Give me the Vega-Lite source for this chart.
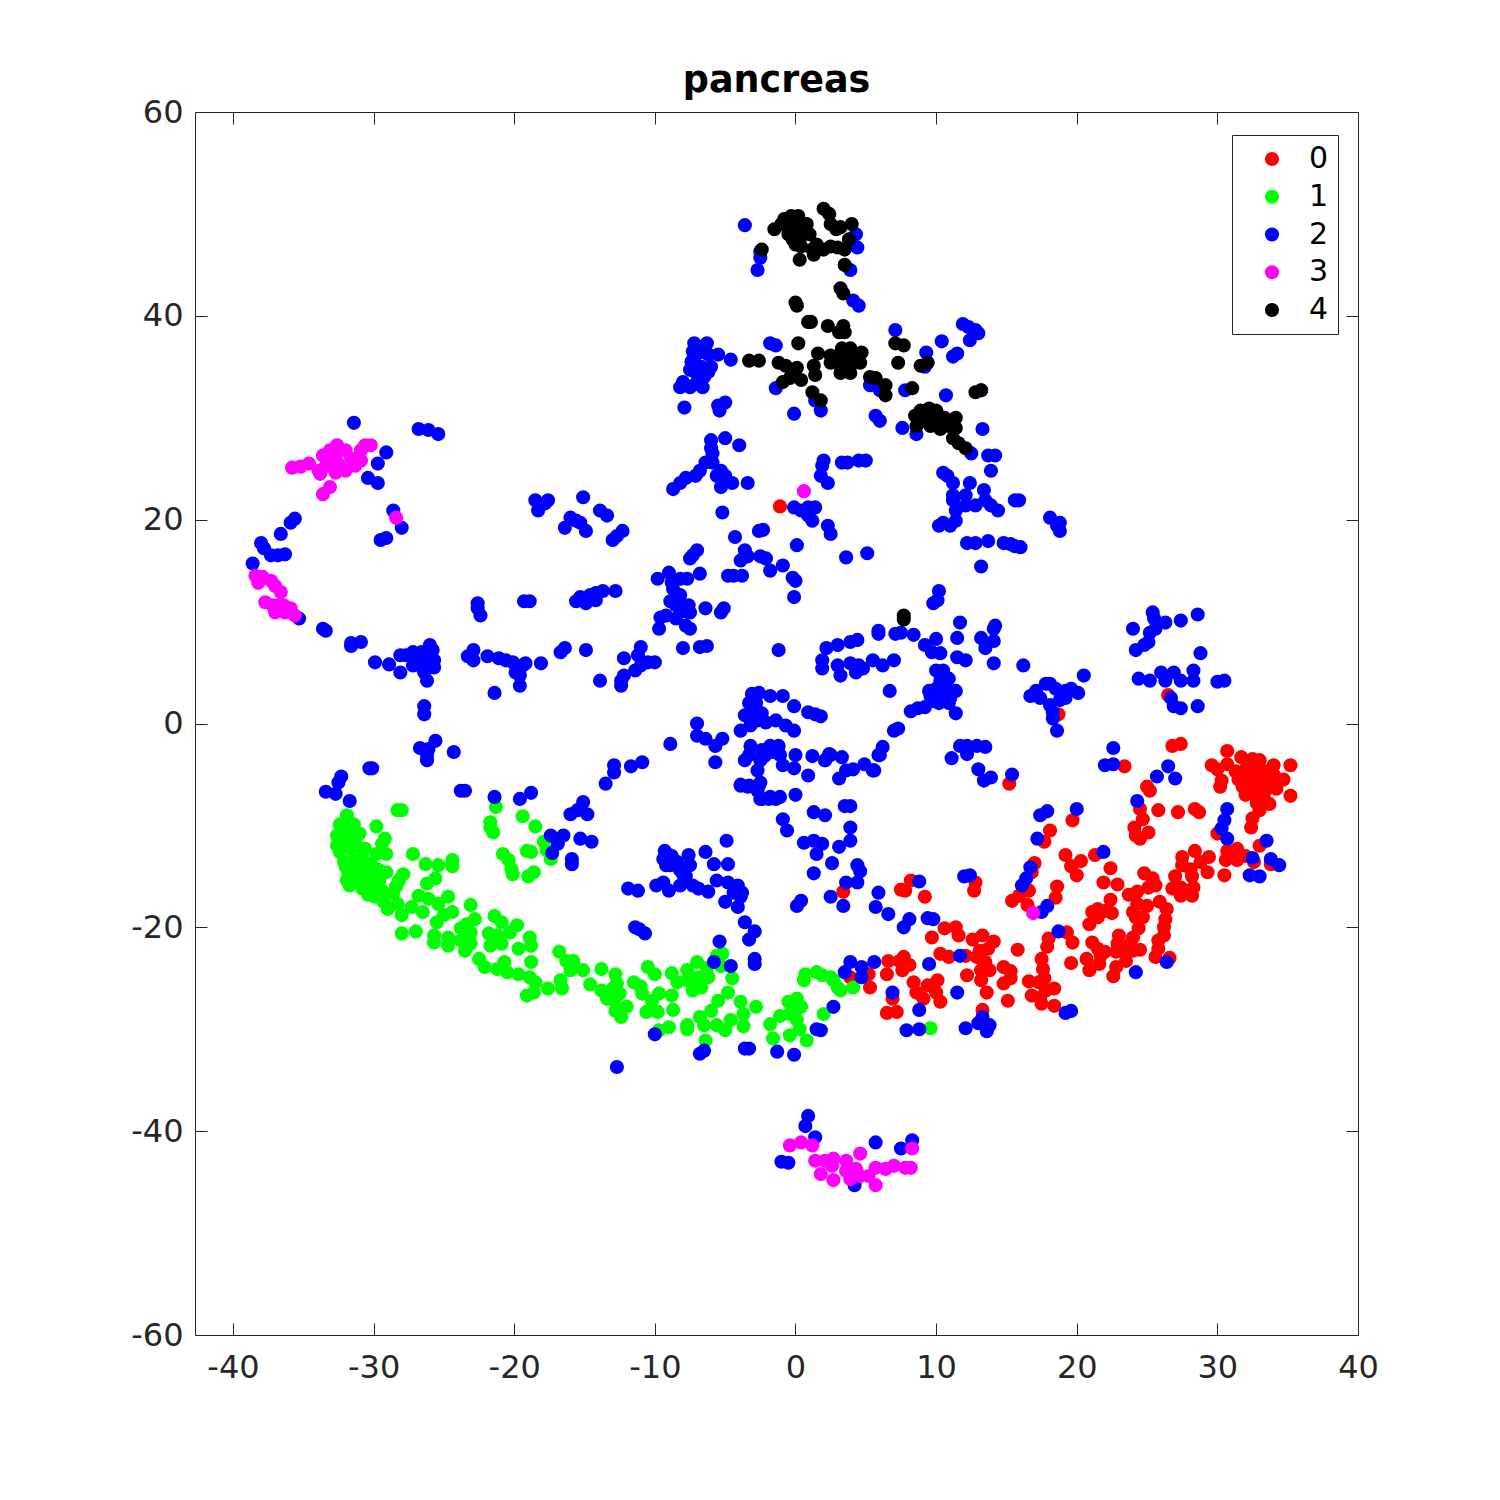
{"$schema":"https://vega.github.io/schema/vega-lite/v6.json","autosize":"none","padding":{"left":195,"top":112,"right":142,"bottom":165},"width":1163,"height":1223,"background":"white","title":{"text":"pancreas","font":"DejaVu Sans","fontSize":36.5,"fontWeight":"bold","color":"#000000","offset":-3,"anchor":"middle"},"config":{"view":{"stroke":null},"axis":{"grid":false,"domainColor":"#262626","tickColor":"#262626","labelColor":"#262626","labelFont":"DejaVu Sans","labelFontSize":32,"tickSize":-12,"domainWidth":1,"tickWidth":1,"title":null}},"datasets":{"pts":[
{"x":30.7,"y":-2.7,"g":0},{"x":29.6,"y":-4.1,"g":0},{"x":30,"y":-4.5,"g":0},{"x":30.7,"y":-4,"g":0},{"x":31.7,"y":-3.3,"g":0},{"x":32.5,"y":-3.5,"g":0},{"x":33,"y":-3.6,"g":0},{"x":34,"y":-4.1,"g":0},{"x":35.2,"y":-4.1,"g":0},{"x":31.3,"y":-4.7,"g":0},{"x":32,"y":-4.5,"g":0},{"x":32.7,"y":-4.6,"g":0},{"x":33.4,"y":-4.7,"g":0},{"x":34,"y":-5,"g":0},{"x":31.5,"y":-5.5,"g":0},{"x":32.2,"y":-5.4,"g":0},{"x":32.9,"y":-5.5,"g":0},{"x":33.6,"y":-5.6,"g":0},{"x":31.8,"y":-6.2,"g":0},{"x":32.4,"y":-6.3,"g":0},{"x":33,"y":-6.2,"g":0},{"x":33.7,"y":-6.3,"g":0},{"x":34.2,"y":-6.4,"g":0},{"x":32,"y":-7,"g":0},{"x":32.7,"y":-7.1,"g":0},{"x":33.3,"y":-7.2,"g":0},{"x":30.3,"y":-5.6,"g":0},{"x":30.2,"y":-6.2,"g":0},{"x":35.2,"y":-7.1,"g":0},{"x":34.7,"y":-5.5,"g":0},{"x":33.7,"y":-7.9,"g":0},{"x":33,"y":-8.5,"g":0},{"x":32.8,"y":-7.8,"g":0},{"x":32.5,"y":-9.3,"g":0},{"x":32.4,"y":-10.2,"g":0},{"x":33,"y":-12,"g":0},{"x":31.4,"y":-12.3,"g":0},{"x":30.7,"y":-12.5,"g":0},{"x":30.6,"y":-13.4,"g":0},{"x":31.4,"y":-13.4,"g":0},{"x":32.6,"y":-13.6,"g":0},{"x":30.5,"y":-14.9,"g":0},{"x":33.8,"y":-13.8,"g":0},{"x":30,"y":-10.8,"g":0},{"x":32,"y":-13,"g":0},{"x":28.4,"y":-12.5,"g":0},{"x":29.4,"y":-13.1,"g":0},{"x":27.5,"y":-13.1,"g":0},{"x":27.5,"y":-13.9,"g":0},{"x":28.1,"y":-14.3,"g":0},{"x":28.8,"y":-13.6,"g":0},{"x":29.3,"y":-14.6,"g":0},{"x":28.2,"y":-15,"g":0},{"x":27,"y":-15,"g":0},{"x":26.8,"y":-16.2,"g":0},{"x":27.4,"y":-16.1,"g":0},{"x":27.4,"y":-16.9,"g":0},{"x":28.3,"y":-16.1,"g":0},{"x":28.2,"y":-16.9,"g":0},{"x":24.8,"y":-14.7,"g":0},{"x":25.4,"y":-15.2,"g":0},{"x":25.6,"y":-15.9,"g":0},{"x":25.1,"y":-16.1,"g":0},{"x":22.4,"y":-14.2,"g":0},{"x":21.9,"y":-15.6,"g":0},{"x":22.9,"y":-15.8,"g":0},{"x":22.4,"y":-17.3,"g":0},{"x":23.7,"y":-16.8,"g":0},{"x":24.3,"y":-16.5,"g":0},{"x":25.9,"y":-17.5,"g":0},{"x":26.4,"y":-18.2,"g":0},{"x":25,"y":-17.9,"g":0},{"x":24.3,"y":-17.7,"g":0},{"x":24,"y":-18.5,"g":0},{"x":24.7,"y":-19,"g":0},{"x":24.2,"y":-19,"g":0},{"x":21.5,"y":-18.2,"g":0},{"x":21.1,"y":-18.5,"g":0},{"x":22,"y":-18.4,"g":0},{"x":22.5,"y":-18.6,"g":0},{"x":21.5,"y":-19,"g":0},{"x":20.9,"y":-19.7,"g":0},{"x":26.3,"y":-19.2,"g":0},{"x":26.2,"y":-20,"g":0},{"x":26.2,"y":-20.8,"g":0},{"x":25.8,"y":-21.3,"g":0},{"x":25.8,"y":-22.1,"g":0},{"x":25.6,"y":-22.9,"g":0},{"x":26.6,"y":-23,"g":0},{"x":24.4,"y":-20.1,"g":0},{"x":24,"y":-21,"g":0},{"x":23.8,"y":-21.6,"g":0},{"x":24.5,"y":-22.2,"g":0},{"x":24,"y":-22.3,"g":0},{"x":23,"y":-20.8,"g":0},{"x":22.9,"y":-21.6,"g":0},{"x":23.2,"y":-22.1,"g":0},{"x":22.8,"y":-22.4,"g":0},{"x":23.5,"y":-23.3,"g":0},{"x":22.8,"y":-23.9,"g":0},{"x":22.6,"y":-24.8,"g":0},{"x":21.1,"y":-21.5,"g":0},{"x":21.5,"y":-22.1,"g":0},{"x":22,"y":-22.4,"g":0},{"x":21.7,"y":-22.8,"g":0},{"x":20.7,"y":-23.1,"g":0},{"x":21.6,"y":-23.6,"g":0},{"x":20.9,"y":-24.2,"g":0},{"x":19.6,"y":-23.5,"g":0},{"x":19.7,"y":-21.5,"g":0},{"x":19.3,"y":-20.5,"g":0},{"x":18,"y":-21.1,"g":0},{"x":17.9,"y":-21.9,"g":0},{"x":17.5,"y":-23.1,"g":0},{"x":17.6,"y":-24.1,"g":0},{"x":17.7,"y":-25,"g":0},{"x":16.6,"y":-25.3,"g":0},{"x":17.3,"y":-25.4,"g":0},{"x":18.4,"y":-26,"g":0},{"x":17.8,"y":-26.2,"g":0},{"x":16.8,"y":-26.7,"g":0},{"x":17.4,"y":-26.9,"g":0},{"x":17.5,"y":-27.5,"g":0},{"x":18.4,"y":-27.7,"g":0},{"x":15.8,"y":-22.2,"g":0},{"x":14.8,"y":-23.9,"g":0},{"x":15.3,"y":-24.3,"g":0},{"x":15.3,"y":-25,"g":0},{"x":14.8,"y":-25.5,"g":0},{"x":15.1,"y":-27.2,"g":0},{"x":13.6,"y":-26.4,"g":0},{"x":13.3,"y":-28.1,"g":0},{"x":13.8,"y":-24.2,"g":0},{"x":13.2,"y":-24.2,"g":0},{"x":13.2,"y":-25.2,"g":0},{"x":12.9,"y":-22.9,"g":0},{"x":13.5,"y":-23.4,"g":0},{"x":12.2,"y":-24.7,"g":0},{"x":9.7,"y":-21,"g":0},{"x":10.6,"y":-20.1,"g":0},{"x":11.4,"y":-20,"g":0},{"x":11.6,"y":-20.8,"g":0},{"x":12.6,"y":-21.2,"g":0},{"x":13.3,"y":-20.8,"g":0},{"x":14.1,"y":-21.4,"g":0},{"x":13.7,"y":-22.1,"g":0},{"x":10.3,"y":-22.6,"g":0},{"x":10.9,"y":-22.9,"g":0},{"x":12.1,"y":-22.8,"g":0},{"x":13.1,"y":-22.3,"g":0},{"x":10.1,"y":-25.2,"g":0},{"x":9.4,"y":-25.7,"g":0},{"x":8.4,"y":-25.4,"g":0},{"x":8.6,"y":-26.4,"g":0},{"x":10.3,"y":-27.3,"g":0},{"x":10,"y":-26.4,"g":0},{"x":9.1,"y":-27,"g":0},{"x":6.6,"y":-23.3,"g":0},{"x":7.4,"y":-23.3,"g":0},{"x":7.7,"y":-22.9,"g":0},{"x":8.1,"y":-23.7,"g":0},{"x":7.6,"y":-24.2,"g":0},{"x":6.5,"y":-24.6,"g":0},{"x":6.9,"y":-27,"g":0},{"x":6.5,"y":-28.4,"g":0},{"x":7.2,"y":-28.3,"g":0},{"x":5.3,"y":-25.9,"g":0},{"x":5.2,"y":-24.6,"g":0},{"x":3.9,"y":-24.9,"g":0},{"x":7.8,"y":-16.4,"g":0},{"x":8.2,"y":-15.4,"g":0},{"x":7.5,"y":-16.3,"g":0},{"x":9.2,"y":-17,"g":0},{"x":3.4,"y":-16.5,"g":0},{"x":12.7,"y":-16.4,"g":0},{"x":12.8,"y":-15.6,"g":0},{"x":15.2,"y":-5.9,"g":0},{"x":15.4,"y":-17.4,"g":0},{"x":15.9,"y":-16.9,"g":0},{"x":16.6,"y":-16.4,"g":0},{"x":17,"y":-13.7,"g":0},{"x":16.8,"y":-14.6,"g":0},{"x":16.5,"y":-17.8,"g":0},{"x":18.6,"y":-16,"g":0},{"x":18.5,"y":-17.1,"g":0},{"x":18.1,"y":-10.5,"g":0},{"x":17.7,"y":-11.6,"g":0},{"x":19.7,"y":-9.5,"g":0},{"x":19.2,"y":-12.9,"g":0},{"x":20.3,"y":-13.5,"g":0},{"x":19.6,"y":-14,"g":0},{"x":20,"y":-14.9,"g":0},{"x":21.3,"y":-12.9,"g":0},{"x":23.4,"y":-4.2,"g":0},{"x":24.5,"y":-8.4,"g":0},{"x":24.7,"y":-9.4,"g":0},{"x":24.1,"y":-10.2,"g":0},{"x":25.1,"y":-10.7,"g":0},{"x":24.2,"y":-11,"g":0},{"x":24.5,"y":-11.3,"g":0},{"x":25,"y":-6.2,"g":0},{"x":25.2,"y":-6.6,"g":0},{"x":25.8,"y":-8.5,"g":0},{"x":27.2,"y":-8.7,"g":0},{"x":28.4,"y":-8.4,"g":0},{"x":28.7,"y":-8.7,"g":0},{"x":26.8,"y":-2.2,"g":0},{"x":27.4,"y":-2,"g":0},{"x":26.5,"y":2.8,"g":0},{"x":-1.1,"y":21.3,"g":0},{"x":18.7,"y":0.9,"g":0},{"x":33.2,"y":-5,"g":0},{"x":32.4,"y":-5,"g":0},{"x":34.2,"y":-5.8,"g":0},
{"x":-28.3,"y":-8.5,"g":1},{"x":-28,"y":-8.5,"g":1},{"x":-31.9,"y":-9,"g":1},{"x":-32.4,"y":-9.9,"g":1},{"x":-31.4,"y":-9.9,"g":1},{"x":-32.6,"y":-11,"g":1},{"x":-31.9,"y":-10.8,"g":1},{"x":-31,"y":-10.8,"g":1},{"x":-32.2,"y":-10.4,"g":1},{"x":-31.6,"y":-11.4,"g":1},{"x":-32.3,"y":-11.7,"g":1},{"x":-29.8,"y":-10.1,"g":1},{"x":-29.2,"y":-11.3,"g":1},{"x":-29.4,"y":-11.8,"g":1},{"x":-30.6,"y":-12.3,"g":1},{"x":-32.4,"y":-12.6,"g":1},{"x":-31.7,"y":-12.3,"g":1},{"x":-29.1,"y":-12.8,"g":1},{"x":-27.2,"y":-12.8,"g":1},{"x":-32.1,"y":-13.6,"g":1},{"x":-31.4,"y":-13.4,"g":1},{"x":-30.2,"y":-13.8,"g":1},{"x":-29.7,"y":-14.3,"g":1},{"x":-29.1,"y":-14.6,"g":1},{"x":-31.8,"y":-14.6,"g":1},{"x":-31,"y":-14.9,"g":1},{"x":-31.9,"y":-15.4,"g":1},{"x":-31.7,"y":-15.9,"g":1},{"x":-30.8,"y":-16.2,"g":1},{"x":-30.2,"y":-15.4,"g":1},{"x":-30,"y":-16.2,"g":1},{"x":-29.9,"y":-17,"g":1},{"x":-29.3,"y":-17.5,"g":1},{"x":-29,"y":-18.2,"g":1},{"x":-28.3,"y":-17.7,"g":1},{"x":-28.6,"y":-16.6,"g":1},{"x":-28.2,"y":-15.4,"g":1},{"x":-27.9,"y":-14.8,"g":1},{"x":-30.6,"y":-15,"g":1},{"x":-29.6,"y":-15.4,"g":1},{"x":-29.4,"y":-16.4,"g":1},{"x":-31.2,"y":-14.2,"g":1},{"x":-30.8,"y":-13.2,"g":1},{"x":-28,"y":-18.8,"g":1},{"x":-28,"y":-20.6,"g":1},{"x":-27,"y":-20.4,"g":1},{"x":-25.7,"y":-20.8,"g":1},{"x":-25.7,"y":-21.5,"g":1},{"x":-26.3,"y":-13.8,"g":1},{"x":-25.4,"y":-13.9,"g":1},{"x":-24.4,"y":-13.4,"g":1},{"x":-24.4,"y":-14,"g":1},{"x":-25.6,"y":-15.2,"g":1},{"x":-26.2,"y":-15.7,"g":1},{"x":-26.8,"y":-16.9,"g":1},{"x":-26.1,"y":-17.2,"g":1},{"x":-27.3,"y":-18,"g":1},{"x":-26.5,"y":-18.5,"g":1},{"x":-25.4,"y":-17.7,"g":1},{"x":-24.7,"y":-17,"g":1},{"x":-24.4,"y":-18.5,"g":1},{"x":-25,"y":-18.8,"g":1},{"x":-25.5,"y":-19.5,"g":1},{"x":-23.1,"y":-17.8,"g":1},{"x":-22.8,"y":-19.2,"g":1},{"x":-23.4,"y":-19.7,"g":1},{"x":-23.8,"y":-20.1,"g":1},{"x":-23.1,"y":-20.5,"g":1},{"x":-24.7,"y":-21,"g":1},{"x":-24.7,"y":-21.8,"g":1},{"x":-23.8,"y":-21.3,"g":1},{"x":-23.5,"y":-22.3,"g":1},{"x":-23.1,"y":-21.6,"g":1},{"x":-22.5,"y":-23.1,"g":1},{"x":-22.1,"y":-23.9,"g":1},{"x":-21.4,"y":-18.9,"g":1},{"x":-20.9,"y":-19.5,"g":1},{"x":-19.8,"y":-19.8,"g":1},{"x":-20.3,"y":-20.5,"g":1},{"x":-21.8,"y":-20.6,"g":1},{"x":-21.2,"y":-20.8,"g":1},{"x":-21.7,"y":-21.8,"g":1},{"x":-20.9,"y":-21.6,"g":1},{"x":-19.7,"y":-22.1,"g":1},{"x":-18.9,"y":-21,"g":1},{"x":-18.8,"y":-21.8,"g":1},{"x":-18.8,"y":-23.4,"g":1},{"x":-20.7,"y":-23.4,"g":1},{"x":-21.2,"y":-24.1,"g":1},{"x":-20.5,"y":-24.4,"g":1},{"x":-19.7,"y":-24.6,"g":1},{"x":-18.9,"y":-24.9,"g":1},{"x":-18.5,"y":-25.4,"g":1},{"x":-19.1,"y":-26.7,"g":1},{"x":-18.6,"y":-26.4,"g":1},{"x":-17.6,"y":-26,"g":1},{"x":-16.7,"y":-25.2,"g":1},{"x":-16.6,"y":-26,"g":1},{"x":-16.8,"y":-22.4,"g":1},{"x":-16.3,"y":-23.3,"g":1},{"x":-15.8,"y":-23.3,"g":1},{"x":-16,"y":-24.2,"g":1},{"x":-15.1,"y":-24.2,"g":1},{"x":-13.8,"y":-24.1,"g":1},{"x":-14.6,"y":-25.6,"g":1},{"x":-13.8,"y":-26.2,"g":1},{"x":-13.4,"y":-27,"g":1},{"x":-12.8,"y":-24.6,"g":1},{"x":-12.7,"y":-25.5,"g":1},{"x":-12.9,"y":-27.2,"g":1},{"x":-12.8,"y":-28.2,"g":1},{"x":-12.4,"y":-28.8,"g":1},{"x":-12,"y":-27.8,"g":1},{"x":-12.5,"y":-26.5,"g":1},{"x":-11.5,"y":-25.4,"g":1},{"x":-10.9,"y":-26.5,"g":1},{"x":-10.5,"y":-23.9,"g":1},{"x":-10,"y":-24.6,"g":1},{"x":-9.7,"y":-26.5,"g":1},{"x":-10.2,"y":-27.2,"g":1},{"x":-10.6,"y":-28.3,"g":1},{"x":-9.8,"y":-28.3,"g":1},{"x":-8.8,"y":-24.5,"g":1},{"x":-8.8,"y":-26.7,"g":1},{"x":-8.7,"y":-28.1,"g":1},{"x":-9,"y":-29.8,"g":1},{"x":-9.7,"y":-30.1,"g":1},{"x":-7.7,"y":-24.2,"g":1},{"x":-7,"y":-23.4,"g":1},{"x":-7.7,"y":-25.2,"g":1},{"x":-6.9,"y":-24.9,"g":1},{"x":-6.2,"y":-24.9,"g":1},{"x":-7.3,"y":-26.2,"g":1},{"x":-6.7,"y":-25.9,"g":1},{"x":-6.3,"y":-24,"g":1},{"x":-5.2,"y":-22.6,"g":1},{"x":-5.6,"y":-22.8,"g":1},{"x":-5.3,"y":-23.8,"g":1},{"x":-4.5,"y":-25,"g":1},{"x":-4.8,"y":-26.4,"g":1},{"x":-5.5,"y":-27.2,"g":1},{"x":-6,"y":-28.2,"g":1},{"x":-6.8,"y":-28.8,"g":1},{"x":-7.7,"y":-29.6,"g":1},{"x":-7.7,"y":-30,"g":1},{"x":-6.5,"y":-29.6,"g":1},{"x":-5.6,"y":-29.6,"g":1},{"x":-5,"y":-30.1,"g":1},{"x":-4.6,"y":-29.1,"g":1},{"x":-3.9,"y":-27.3,"g":1},{"x":-3.7,"y":-28.5,"g":1},{"x":-3.7,"y":-29.7,"g":1},{"x":-2.8,"y":-27.8,"g":1},{"x":-6.4,"y":-31.1,"g":1},{"x":-1.8,"y":-29.5,"g":1},{"x":-1.6,"y":-30.9,"g":1},{"x":-1.1,"y":-28.7,"g":1},{"x":-0.5,"y":-27.3,"g":1},{"x":0.1,"y":-27,"g":1},{"x":0.4,"y":-27.8,"g":1},{"x":-0.4,"y":-28.5,"g":1},{"x":0.1,"y":-29.1,"g":1},{"x":-0.4,"y":-30.6,"g":1},{"x":0.3,"y":-30,"g":1},{"x":0.8,"y":-31.1,"g":1},{"x":0,"y":-28.2,"g":1},{"x":0.6,"y":-25.2,"g":1},{"x":0.7,"y":-24.6,"g":1},{"x":1.5,"y":-24.4,"g":1},{"x":1.9,"y":-24.7,"g":1},{"x":2.5,"y":-24.9,"g":1},{"x":3,"y":-25.9,"g":1},{"x":2.7,"y":-25.2,"g":1},{"x":3.2,"y":-26.2,"g":1},{"x":4.1,"y":-25.9,"g":1},{"x":2,"y":-28.5,"g":1},{"x":9.6,"y":-29.9,"g":1},{"x":-21.3,"y":-8.2,"g":1},{"x":-21.7,"y":-9.7,"g":1},{"x":-21.7,"y":-10.2,"g":1},{"x":-21.5,"y":-10.7,"g":1},{"x":-19.4,"y":-9.1,"g":1},{"x":-18.5,"y":-10.1,"g":1},{"x":-17.9,"y":-11.6,"g":1},{"x":-17.7,"y":-12.4,"g":1},{"x":-17.4,"y":-13.3,"g":1},{"x":-20.8,"y":-12.8,"g":1},{"x":-20.4,"y":-13.4,"g":1},{"x":-20.2,"y":-14.3,"g":1},{"x":-20.1,"y":-14.8,"g":1},{"x":-19.1,"y":-12.5,"g":1},{"x":-18.8,"y":-12.6,"g":1},{"x":-18.6,"y":-14.6,"g":1},{"x":-19,"y":-15,"g":1},{"x":-32.6,"y":-12,"g":1},{"x":-31.2,"y":-12,"g":1},{"x":-32,"y":-14,"g":1},{"x":-31.4,"y":-15.2,"g":1},{"x":-30.4,"y":-14.4,"g":1},{"x":-30.4,"y":-16.8,"g":1},{"x":-29.8,"y":-12.8,"g":1},{"x":-28.4,"y":-16,"g":1},{"x":-23.2,"y":-21,"g":1},{"x":-8.4,"y":-25.4,"g":1},{"x":-13,"y":-26,"g":1},{"x":-11,"y":-25.8,"g":1},
{"x":-33.4,"y":-6.7,"g":2},{"x":-32.7,"y":-6.9,"g":2},{"x":-32.5,"y":-5.8,"g":2},{"x":-32.3,"y":-5.2,"g":2},{"x":-30.3,"y":-4.4,"g":2},{"x":-30.1,"y":-4.4,"g":2},{"x":-31.7,"y":-7.6,"g":2},{"x":-23.8,"y":-6.6,"g":2},{"x":-23.5,"y":-6.6,"g":2},{"x":-21.4,"y":-7.2,"g":2},{"x":-19.6,"y":-7.4,"g":2},{"x":-18.8,"y":-6.8,"g":2},{"x":-16,"y":-8.9,"g":2},{"x":-15.5,"y":-8.5,"g":2},{"x":-15.1,"y":-7.7,"g":2},{"x":-14.8,"y":-8.9,"g":2},{"x":-17.4,"y":-11,"g":2},{"x":-16.5,"y":-11,"g":2},{"x":-16.9,"y":-11.8,"g":2},{"x":-17.3,"y":-12.7,"g":2},{"x":-15.3,"y":-11.3,"g":2},{"x":-14.5,"y":-11.6,"g":2},{"x":-15.9,"y":-13.8,"g":2},{"x":-15.9,"y":-13.3,"g":2},{"x":-13.5,"y":-5.9,"g":2},{"x":-12.9,"y":-4.1,"g":2},{"x":-12.9,"y":-4.8,"g":2},{"x":-11.7,"y":-4.2,"g":2},{"x":-10.9,"y":-3.8,"g":2},{"x":-9.3,"y":-12.5,"g":2},{"x":-9,"y":-12.9,"g":2},{"x":-9.4,"y":-13.3,"g":2},{"x":-8.7,"y":-13.4,"g":2},{"x":-8.9,"y":-13.9,"g":2},{"x":-8.2,"y":-14.4,"g":2},{"x":-7.6,"y":-12.9,"g":2},{"x":-7.5,"y":-13.9,"g":2},{"x":-7.8,"y":-15,"g":2},{"x":-8.2,"y":-15.9,"g":2},{"x":-6.4,"y":-12.6,"g":2},{"x":-5.8,"y":-13.8,"g":2},{"x":-4.8,"y":-13.8,"g":2},{"x":-4.9,"y":-11.5,"g":2},{"x":-11.9,"y":-16.2,"g":2},{"x":-11.2,"y":-16.4,"g":2},{"x":-9.9,"y":-15.9,"g":2},{"x":-9.4,"y":-15.6,"g":2},{"x":-9,"y":-16.4,"g":2},{"x":-7.3,"y":-15.9,"g":2},{"x":-6.9,"y":-16.2,"g":2},{"x":-6.2,"y":-16.5,"g":2},{"x":-5.6,"y":-15.4,"g":2},{"x":-4.8,"y":-15.6,"g":2},{"x":-4.1,"y":-15.9,"g":2},{"x":-4.4,"y":-16.6,"g":2},{"x":-3.9,"y":-17,"g":2},{"x":-5,"y":-17.5,"g":2},{"x":-4.1,"y":-18,"g":2},{"x":-3.6,"y":-19.5,"g":2},{"x":-2.9,"y":-20.4,"g":2},{"x":-3.3,"y":-21.2,"g":2},{"x":-11.4,"y":-20,"g":2},{"x":-11.1,"y":-20.2,"g":2},{"x":-10.7,"y":-20.6,"g":2},{"x":-5.4,"y":-21.4,"g":2},{"x":-5.8,"y":-23.4,"g":2},{"x":-4.6,"y":-23.8,"g":2},{"x":-2.9,"y":-23.1,"g":2},{"x":-2.9,"y":-23.6,"g":2},{"x":-10,"y":-30.5,"g":2},{"x":-12.7,"y":-33.7,"g":2},{"x":-6.8,"y":-32.4,"g":2},{"x":-6.5,"y":-32.1,"g":2},{"x":-3.3,"y":-31.9,"g":2},{"x":-3.6,"y":-31.9,"g":2},{"x":-1.3,"y":-32.2,"g":2},{"x":-0.1,"y":-32.5,"g":2},{"x":1.5,"y":-30,"g":2},{"x":0.1,"y":-17.9,"g":2},{"x":0.4,"y":-17.4,"g":2},{"x":1.3,"y":-14.7,"g":2},{"x":0.6,"y":-11.7,"g":2},{"x":1.3,"y":-11.5,"g":2},{"x":1.5,"y":-12.8,"g":2},{"x":1.3,"y":-8.7,"g":2},{"x":-0.9,"y":-9.4,"g":2},{"x":-0.6,"y":-10.5,"g":2},{"x":0,"y":-7,"g":2},{"x":-1.1,"y":-7.2,"g":2},{"x":-1.8,"y":-7.2,"g":2},{"x":-2.4,"y":-7.4,"g":2},{"x":-2.6,"y":-6.1,"g":2},{"x":-3.9,"y":-6.1,"g":2},{"x":-3.3,"y":-6.1,"g":2},{"x":6.2,"y":-2.3,"g":2},{"x":6,"y":-3.1,"g":2},{"x":2.4,"y":-3,"g":2},{"x":2.1,"y":-3.6,"g":2},{"x":3.3,"y":-3.3,"g":2},{"x":4.9,"y":-4,"g":2},{"x":4.1,"y":-4.5,"g":2},{"x":5.6,"y":-4.6,"g":2},{"x":3.6,"y":-4.6,"g":2},{"x":3.1,"y":-5.4,"g":2},{"x":12.2,"y":-2.2,"g":2},{"x":11.7,"y":-2.2,"g":2},{"x":12.9,"y":-2.2,"g":2},{"x":13.5,"y":-2.3,"g":2},{"x":12.2,"y":-3,"g":2},{"x":11.1,"y":-3.4,"g":2},{"x":13,"y":-4.5,"g":2},{"x":13.4,"y":-5.6,"g":2},{"x":13.9,"y":-5.3,"g":2},{"x":15.4,"y":-5,"g":2},{"x":3.9,"y":-8.1,"g":2},{"x":3.5,"y":-8.1,"g":2},{"x":2.1,"y":-9,"g":2},{"x":3.9,"y":-10.2,"g":2},{"x":3.9,"y":-11.5,"g":2},{"x":3.1,"y":-12.1,"g":2},{"x":1.9,"y":-11.8,"g":2},{"x":2.6,"y":-13.7,"g":2},{"x":4.4,"y":-13.9,"g":2},{"x":4.6,"y":-14.5,"g":2},{"x":3.6,"y":-15.6,"g":2},{"x":4.4,"y":-15.6,"g":2},{"x":5.9,"y":-16.6,"g":2},{"x":2.5,"y":-17,"g":2},{"x":3.4,"y":-17.9,"g":2},{"x":5.7,"y":-18,"g":2},{"x":6.6,"y":-18.7,"g":2},{"x":8.1,"y":-19.2,"g":2},{"x":7.7,"y":-20,"g":2},{"x":9.4,"y":-19.1,"g":2},{"x":9.8,"y":-19.2,"g":2},{"x":8.8,"y":-15.5,"g":2},{"x":12,"y":-15,"g":2},{"x":12.4,"y":-14.9,"g":2},{"x":17.4,"y":-9,"g":2},{"x":17.9,"y":-8.6,"g":2},{"x":20,"y":-8.4,"g":2},{"x":17.2,"y":-11.3,"g":2},{"x":16.7,"y":-14.1,"g":2},{"x":16.4,"y":-15.2,"g":2},{"x":16.1,"y":-15.9,"g":2},{"x":17.9,"y":-17.9,"g":2},{"x":17.5,"y":-18.5,"g":2},{"x":18.7,"y":-20.4,"g":2},{"x":21.9,"y":-12.6,"g":2},{"x":22.6,"y":-2.4,"g":2},{"x":22,"y":-4.1,"g":2},{"x":22.6,"y":-4,"g":2},{"x":26.5,"y":-4.2,"g":2},{"x":25.7,"y":-5.2,"g":2},{"x":27,"y":-5.4,"g":2},{"x":24.3,"y":-7.6,"g":2},{"x":30.7,"y":-8.4,"g":2},{"x":30.5,"y":-9.5,"g":2},{"x":30.3,"y":-10.3,"g":2},{"x":30.7,"y":-11.3,"g":2},{"x":33.5,"y":-11.5,"g":2},{"x":32.5,"y":-13.2,"g":2},{"x":33.8,"y":-13.3,"g":2},{"x":34.4,"y":-13.9,"g":2},{"x":32.3,"y":-14.9,"g":2},{"x":33,"y":-15,"g":2},{"x":3.9,"y":-23.4,"g":2},{"x":3.5,"y":-24.4,"g":2},{"x":4.7,"y":-23.9,"g":2},{"x":4.7,"y":-24.9,"g":2},{"x":5.6,"y":-23.4,"g":2},{"x":9.5,"y":-23.6,"g":2},{"x":11.7,"y":-22.8,"g":2},{"x":6.9,"y":-26.4,"g":2},{"x":11.5,"y":-26.4,"g":2},{"x":2.7,"y":-27.8,"g":2},{"x":8.8,"y":-28.1,"g":2},{"x":7.9,"y":-30.1,"g":2},{"x":8.8,"y":-30,"g":2},{"x":12.1,"y":-29.9,"g":2},{"x":13.3,"y":-28.8,"g":2},{"x":13,"y":-29.4,"g":2},{"x":13.8,"y":-29.6,"g":2},{"x":13.6,"y":-30.2,"g":2},{"x":19.2,"y":-28.4,"g":2},{"x":19.6,"y":-28.2,"g":2},{"x":24.2,"y":-24.4,"g":2},{"x":26.4,"y":-23.4,"g":2},{"x":1.8,"y":-30.1,"g":2},{"x":-3.6,"y":48.9,"g":2},{"x":-2.5,"y":46.3,"g":2},{"x":-2.7,"y":44.5,"g":2},{"x":-2.5,"y":45.7,"g":2},{"x":4.4,"y":46.7,"g":2},{"x":4.3,"y":48,"g":2},{"x":3.9,"y":44.5,"g":2},{"x":-7.2,"y":37.3,"g":2},{"x":-6.3,"y":37.3,"g":2},{"x":-7.3,"y":36.5,"g":2},{"x":-6.2,"y":36.2,"g":2},{"x":-5.5,"y":36.2,"g":2},{"x":-7.4,"y":35.5,"g":2},{"x":-6.7,"y":35,"g":2},{"x":-6,"y":35,"g":2},{"x":-4.6,"y":35.7,"g":2},{"x":-7.5,"y":34.7,"g":2},{"x":-7,"y":34.3,"g":2},{"x":-6.5,"y":34,"g":2},{"x":-8,"y":33.5,"g":2},{"x":-7.5,"y":33,"g":2},{"x":-6.6,"y":33,"g":2},{"x":-8.2,"y":33,"g":2},{"x":-7.9,"y":31,"g":2},{"x":-5.4,"y":30.7,"g":2},{"x":-5,"y":31.5,"g":2},{"x":-5.5,"y":31.2,"g":2},{"x":7.1,"y":38.6,"g":2},{"x":9.3,"y":36.4,"g":2},{"x":10.4,"y":37.5,"g":2},{"x":9.2,"y":35,"g":2},{"x":11.9,"y":39.2,"g":2},{"x":12.3,"y":38.9,"g":2},{"x":12.8,"y":38.6,"g":2},{"x":12.4,"y":37.6,"g":2},{"x":13,"y":38.3,"g":2},{"x":11.5,"y":36.3,"g":2},{"x":11.2,"y":36,"g":2},{"x":10.7,"y":32.2,"g":2},{"x":13.2,"y":32.7,"g":2},{"x":7.8,"y":32.7,"g":2},{"x":6,"y":32.7,"g":2},{"x":5.3,"y":33.2,"g":2},{"x":5.7,"y":30.2,"g":2},{"x":6,"y":29.7,"g":2},{"x":7.6,"y":29,"g":2},{"x":8.6,"y":28.4,"g":2},{"x":13.3,"y":28.9,"g":2},{"x":12.5,"y":26.5,"g":2},{"x":13.7,"y":26.3,"g":2},{"x":14.2,"y":26.3,"g":2},{"x":13.9,"y":24.8,"g":2},{"x":4.5,"y":41,"g":2},{"x":4.1,"y":41.5,"g":2},{"x":-1.4,"y":37.1,"g":2},{"x":-1.8,"y":37.3,"g":2},{"x":-1.4,"y":32.9,"g":2},{"x":-0.1,"y":30.4,"g":2},{"x":1.8,"y":30.7,"g":2},{"x":1.4,"y":31.7,"g":2},{"x":-6,"y":27.8,"g":2},{"x":-6,"y":27,"g":2},{"x":-5.9,"y":26.5,"g":2},{"x":-5,"y":28,"g":2},{"x":-4,"y":27.3,"g":2},{"x":-6.4,"y":25.6,"g":2},{"x":-5.9,"y":25.6,"g":2},{"x":-6.8,"y":24.8,"g":2},{"x":-7.1,"y":24.3,"g":2},{"x":-7.8,"y":24.1,"g":2},{"x":-8.2,"y":23.6,"g":2},{"x":-8.7,"y":23,"g":2},{"x":-5.3,"y":24.8,"g":2},{"x":-5,"y":24.3,"g":2},{"x":-5.3,"y":23.2,"g":2},{"x":-4.5,"y":23.6,"g":2},{"x":-3.4,"y":23.6,"g":2},{"x":-5.2,"y":20.7,"g":2},{"x":2,"y":25.8,"g":2},{"x":1.8,"y":24.3,"g":2},{"x":2.3,"y":23.6,"g":2},{"x":1.9,"y":25.3,"g":2},{"x":3.7,"y":25.6,"g":2},{"x":4.5,"y":25.8,"g":2},{"x":5,"y":25.8,"g":2},{"x":10.5,"y":24.6,"g":2},{"x":10.8,"y":24.3,"g":2},{"x":11.2,"y":23.6,"g":2},{"x":11.2,"y":22.4,"g":2},{"x":12.4,"y":23.6,"g":2},{"x":13.4,"y":22.9,"g":2},{"x":12.1,"y":22.4,"g":2},{"x":13.5,"y":21.9,"g":2},{"x":12.1,"y":21.4,"g":2},{"x":12.8,"y":21.4,"g":2},{"x":13.9,"y":21.4,"g":2},{"x":14.4,"y":20.9,"g":2},{"x":15.6,"y":21.9,"g":2},{"x":15.9,"y":21.9,"g":2},{"x":11.4,"y":20.9,"g":2},{"x":11.4,"y":19.9,"g":2},{"x":11,"y":19.4,"g":2},{"x":10.2,"y":19.4,"g":2},{"x":10.5,"y":19.7,"g":2},{"x":12.2,"y":17.7,"g":2},{"x":12.8,"y":17.7,"g":2},{"x":13.7,"y":17.9,"g":2},{"x":13.2,"y":15.4,"g":2},{"x":14.8,"y":17.7,"g":2},{"x":15.3,"y":17.6,"g":2},{"x":15.6,"y":17.4,"g":2},{"x":16,"y":17.3,"g":2},{"x":18.1,"y":20.2,"g":2},{"x":18.6,"y":19.4,"g":2},{"x":18.8,"y":19.7,"g":2},{"x":18.8,"y":18.9,"g":2},{"x":-0.1,"y":21.2,"g":2},{"x":0.4,"y":20.9,"g":2},{"x":0.9,"y":21.2,"g":2},{"x":1.4,"y":21.2,"g":2},{"x":0.9,"y":20.4,"g":2},{"x":1.2,"y":19.9,"g":2},{"x":2.3,"y":19.4,"g":2},{"x":2.5,"y":18.6,"g":2},{"x":0.1,"y":17.5,"g":2},{"x":3.6,"y":16.3,"g":2},{"x":5.1,"y":16.7,"g":2},{"x":-0.2,"y":14.3,"g":2},{"x":0,"y":14,"g":2},{"x":-0.1,"y":12.4,"g":2},{"x":-4.3,"y":18.3,"g":2},{"x":-3.6,"y":17,"g":2},{"x":-3.4,"y":16.4,"g":2},{"x":-2.6,"y":18.9,"g":2},{"x":-2.3,"y":19,"g":2},{"x":-2.5,"y":16.4,"g":2},{"x":-2.1,"y":16.2,"g":2},{"x":-1.8,"y":15,"g":2},{"x":-0.9,"y":15.5,"g":2},{"x":-3.9,"y":16,"g":2},{"x":-4.4,"y":14.5,"g":2},{"x":-3.8,"y":14.5,"g":2},{"x":-4.8,"y":14.5,"g":2},{"x":-7,"y":17,"g":2},{"x":-7.3,"y":16.5,"g":2},{"x":-7.5,"y":16.2,"g":2},{"x":-6.8,"y":14.7,"g":2},{"x":-7.7,"y":14.2,"g":2},{"x":-8.2,"y":14.2,"g":2},{"x":-9,"y":14.8,"g":2},{"x":-9.8,"y":14.2,"g":2},{"x":-8.7,"y":13.2,"g":2},{"x":-8.9,"y":12,"g":2},{"x":-8.5,"y":11.6,"g":2},{"x":-8.2,"y":11.6,"g":2},{"x":-7.6,"y":11.6,"g":2},{"x":-7.5,"y":10.9,"g":2},{"x":-6.4,"y":11.3,"g":2},{"x":-5.1,"y":11.3,"g":2},{"x":-5.3,"y":10.9,"g":2},{"x":-9.2,"y":10.6,"g":2},{"x":-9.6,"y":10.4,"g":2},{"x":-8.5,"y":10.3,"g":2},{"x":-9.7,"y":9.3,"g":2},{"x":-7.8,"y":9.6,"g":2},{"x":-7.5,"y":9.3,"g":2},{"x":-8,"y":7.4,"g":2},{"x":-6.8,"y":7.5,"g":2},{"x":-6.3,"y":7.6,"g":2},{"x":-11,"y":7.5,"g":2},{"x":-11.2,"y":6.7,"g":2},{"x":-12.2,"y":6.4,"g":2},{"x":-10,"y":6,"g":2},{"x":-10.5,"y":6,"g":2},{"x":-11,"y":5.7,"g":2},{"x":-11.4,"y":5.2,"g":2},{"x":-12.2,"y":4.7,"g":2},{"x":-12.4,"y":4.2,"g":2},{"x":-12.4,"y":3.7,"g":2},{"x":-13.9,"y":4.2,"g":2},{"x":-14.9,"y":7.2,"g":2},{"x":-16.4,"y":7.4,"g":2},{"x":-16.7,"y":7,"g":2},{"x":-15.6,"y":12,"g":2},{"x":-15.3,"y":12.4,"g":2},{"x":-14.6,"y":12.6,"g":2},{"x":-14.9,"y":11.8,"g":2},{"x":-14.2,"y":12.8,"g":2},{"x":-13.7,"y":13,"g":2},{"x":-12.8,"y":13,"g":2},{"x":-14.2,"y":12.1,"g":2},{"x":-19.3,"y":12,"g":2},{"x":-18.9,"y":12,"g":2},{"x":-18.5,"y":21.9,"g":2},{"x":-17.8,"y":21.6,"g":2},{"x":-18.3,"y":20.9,"g":2},{"x":-17.6,"y":21.9,"g":2},{"x":-15.1,"y":22.2,"g":2},{"x":-16,"y":20.2,"g":2},{"x":-15.6,"y":19.9,"g":2},{"x":-15.3,"y":19.7,"g":2},{"x":-16.4,"y":19.2,"g":2},{"x":-14.9,"y":18.9,"g":2},{"x":-13.9,"y":20.9,"g":2},{"x":-13.4,"y":20.4,"g":2},{"x":-12.3,"y":18.9,"g":2},{"x":-12.7,"y":18.4,"g":2},{"x":-13,"y":18,"g":2},{"x":-22.6,"y":11.8,"g":2},{"x":-22.6,"y":11.3,"g":2},{"x":-22.4,"y":10.6,"g":2},{"x":-22.9,"y":7.2,"g":2},{"x":-23.3,"y":6.6,"g":2},{"x":-22.9,"y":6.2,"g":2},{"x":-21.9,"y":6.6,"g":2},{"x":-21.1,"y":6.4,"g":2},{"x":-20.6,"y":6.2,"g":2},{"x":-20.1,"y":6,"g":2},{"x":-19.4,"y":5.7,"g":2},{"x":-19.2,"y":5.9,"g":2},{"x":-18.1,"y":5.9,"g":2},{"x":-19.9,"y":5,"g":2},{"x":-19.6,"y":4.7,"g":2},{"x":-19.6,"y":3.7,"g":2},{"x":-21.4,"y":3,"g":2},{"x":-29.9,"y":6,"g":2},{"x":-28.9,"y":5.8,"g":2},{"x":-28.1,"y":6.7,"g":2},{"x":-28.1,"y":5,"g":2},{"x":-27.7,"y":6.7,"g":2},{"x":-27.2,"y":7,"g":2},{"x":-27.2,"y":5.7,"g":2},{"x":-26.8,"y":6.4,"g":2},{"x":-26.5,"y":5.4,"g":2},{"x":-26.3,"y":6.7,"g":2},{"x":-26,"y":7.7,"g":2},{"x":-25.8,"y":7.2,"g":2},{"x":-26,"y":6.4,"g":2},{"x":-25.7,"y":6.2,"g":2},{"x":-26.3,"y":6,"g":2},{"x":-25.7,"y":5.5,"g":2},{"x":-26.2,"y":4.2,"g":2},{"x":-26.4,"y":1.7,"g":2},{"x":-26.4,"y":0.9,"g":2},{"x":-26.7,"y":-2.4,"g":2},{"x":-26.1,"y":-2.5,"g":2},{"x":-25.6,"y":-1.7,"g":2},{"x":-26.2,"y":-3.1,"g":2},{"x":-26.2,"y":-3.6,"g":2},{"x":-24.3,"y":-2.8,"g":2},{"x":-31.6,"y":7.9,"g":2},{"x":-30.9,"y":8,"g":2},{"x":-31.6,"y":7.6,"g":2},{"x":-33.6,"y":9.3,"g":2},{"x":-33.4,"y":9.1,"g":2},{"x":-31.4,"y":29.5,"g":2},{"x":-26.8,"y":28.9,"g":2},{"x":-26.1,"y":28.8,"g":2},{"x":-25.4,"y":28.4,"g":2},{"x":-29.7,"y":25.5,"g":2},{"x":-29.1,"y":26.6,"g":2},{"x":-30.4,"y":24.1,"g":2},{"x":-29.7,"y":23.6,"g":2},{"x":-28.6,"y":20.9,"g":2},{"x":-29.5,"y":18,"g":2},{"x":-29.1,"y":18.2,"g":2},{"x":-28,"y":19.2,"g":2},{"x":-35.6,"y":20.1,"g":2},{"x":-35.9,"y":19.7,"g":2},{"x":-36.6,"y":18.6,"g":2},{"x":-38,"y":17.7,"g":2},{"x":-37.8,"y":17.2,"g":2},{"x":-37.3,"y":16.5,"g":2},{"x":-36.8,"y":16.5,"g":2},{"x":-36.3,"y":16.6,"g":2},{"x":-38.6,"y":15.7,"g":2},{"x":-35.3,"y":10.3,"g":2},{"x":-3.1,"y":2.9,"g":2},{"x":-2.6,"y":3,"g":2},{"x":-3.3,"y":2,"g":2},{"x":-2.8,"y":2,"g":2},{"x":-3.6,"y":0.8,"g":2},{"x":-1.8,"y":2.7,"g":2},{"x":-0.9,"y":2.7,"g":2},{"x":-0.1,"y":1.7,"g":2},{"x":-1.4,"y":0.3,"g":2},{"x":-2.7,"y":0.3,"g":2},{"x":-2.1,"y":0.1,"g":2},{"x":-3.2,"y":-0.2,"g":2},{"x":-3.9,"y":-0.7,"g":2},{"x":-0.7,"y":-0.2,"g":2},{"x":-0.1,"y":-0.7,"g":2},{"x":0.9,"y":1.1,"g":2},{"x":1.4,"y":0.9,"g":2},{"x":1.8,"y":0.7,"g":2},{"x":-7,"y":0,"g":2},{"x":-7,"y":-1.2,"g":2},{"x":-6.4,"y":-1.5,"g":2},{"x":-5.7,"y":-2.2,"g":2},{"x":-5.2,"y":-1.5,"g":2},{"x":-8.9,"y":-2,"g":2},{"x":-1.2,"y":7.2,"g":2},{"x":-1.8,"y":-2.2,"g":2},{"x":-1.2,"y":-2.2,"g":2},{"x":-3.2,"y":-2.2,"g":2},{"x":-1.6,"y":-2.8,"g":2},{"x":-1.1,"y":-3.1,"g":2},{"x":0,"y":-3.1,"g":2},{"x":1.2,"y":-3.2,"g":2},{"x":2.1,"y":-3.6,"g":2},{"x":2.5,"y":-3.1,"g":2},{"x":-3.3,"y":-3.1,"g":2},{"x":-2.5,"y":-3.6,"g":2},{"x":-3.6,"y":-3.6,"g":2},{"x":-2.7,"y":-4.6,"g":2},{"x":-0.9,"y":-4.1,"g":2},{"x":-0.1,"y":-4.4,"g":2},{"x":0.9,"y":-5.1,"g":2},{"x":-5.7,"y":-3.8,"g":2},{"x":-3.9,"y":-6,"g":2},{"x":-3.4,"y":-6.2,"g":2},{"x":-2.5,"y":-5.8,"g":2},{"x":-2.7,"y":-6.6,"g":2},{"x":-2.5,"y":-7.4,"g":2},{"x":-1.9,"y":-7.4,"g":2},{"x":-1.4,"y":-7.4,"g":2},{"x":2.2,"y":7.4,"g":2},{"x":3,"y":7.7,"g":2},{"x":3.9,"y":8,"g":2},{"x":4.4,"y":8.2,"g":2},{"x":1.9,"y":6.2,"g":2},{"x":1.9,"y":5.4,"g":2},{"x":3,"y":5.7,"g":2},{"x":3.9,"y":5.9,"g":2},{"x":4.5,"y":5.7,"g":2},{"x":3.2,"y":4.7,"g":2},{"x":4.3,"y":5,"g":2},{"x":4.8,"y":5.4,"g":2},{"x":5.5,"y":6.2,"g":2},{"x":6.2,"y":5.7,"g":2},{"x":7,"y":6.2,"g":2},{"x":6.7,"y":3.2,"g":2},{"x":5.9,"y":9.1,"g":2},{"x":5.9,"y":8.8,"g":2},{"x":7.1,"y":8.8,"g":2},{"x":7.5,"y":8.9,"g":2},{"x":8.4,"y":8.7,"g":2},{"x":9.2,"y":7.7,"g":2},{"x":10,"y":8.3,"g":2},{"x":9.7,"y":7,"g":2},{"x":10.3,"y":6.9,"g":2},{"x":10.1,"y":12.1,"g":2},{"x":9.8,"y":11.8,"g":2},{"x":10.2,"y":13,"g":2},{"x":11.7,"y":9.9,"g":2},{"x":11.5,"y":8.4,"g":2},{"x":11.5,"y":6.5,"g":2},{"x":12.1,"y":6.2,"g":2},{"x":13.2,"y":8.4,"g":2},{"x":13.5,"y":7.4,"g":2},{"x":14.2,"y":9.6,"g":2},{"x":14.1,"y":9.3,"g":2},{"x":14.1,"y":8.1,"g":2},{"x":14.1,"y":5.9,"g":2},{"x":16.2,"y":5.7,"g":2},{"x":5.5,"y":-4.6,"g":2},{"x":5.9,"y":-3.1,"g":2},{"x":7,"y":-0.7,"g":2},{"x":7.3,"y":-0.5,"g":2},{"x":8.2,"y":1.2,"g":2},{"x":8.7,"y":1.5,"g":2},{"x":10,"y":5.2,"g":2},{"x":10.5,"y":5.2,"g":2},{"x":10.3,"y":4.2,"g":2},{"x":10.9,"y":4.4,"g":2},{"x":9.5,"y":3.2,"g":2},{"x":10,"y":3.4,"g":2},{"x":10.7,"y":3.4,"g":2},{"x":11.4,"y":3.2,"g":2},{"x":9.6,"y":2.7,"g":2},{"x":10.3,"y":2.7,"g":2},{"x":11,"y":2.5,"g":2},{"x":10.2,"y":2,"g":2},{"x":10.9,"y":2,"g":2},{"x":9.2,"y":1.6,"g":2},{"x":11.4,"y":1,"g":2},{"x":16.7,"y":2.7,"g":2},{"x":17.1,"y":3.2,"g":2},{"x":17.8,"y":3.9,"g":2},{"x":18.1,"y":3.9,"g":2},{"x":17.4,"y":2.5,"g":2},{"x":18.5,"y":3.4,"g":2},{"x":19.2,"y":3.2,"g":2},{"x":19.6,"y":3.4,"g":2},{"x":20.1,"y":3,"g":2},{"x":20.5,"y":4.7,"g":2},{"x":18.1,"y":1.8,"g":2},{"x":19.2,"y":2.5,"g":2},{"x":18.3,"y":1.1,"g":2},{"x":18.3,"y":0.5,"g":2},{"x":18.6,"y":-0.7,"g":2},{"x":18.8,"y":2.3,"g":2},{"x":24,"y":9.3,"g":2},{"x":25.4,"y":10.9,"g":2},{"x":25.5,"y":10.3,"g":2},{"x":25.2,"y":8.9,"g":2},{"x":25.6,"y":9.3,"g":2},{"x":26.3,"y":9.9,"g":2},{"x":27.4,"y":10.1,"g":2},{"x":28.6,"y":10.7,"g":2},{"x":24.2,"y":7.2,"g":2},{"x":24.8,"y":7.7,"g":2},{"x":25.1,"y":8,"g":2},{"x":28.8,"y":6.9,"g":2},{"x":24.4,"y":4.4,"g":2},{"x":25.2,"y":4.2,"g":2},{"x":26,"y":5,"g":2},{"x":26.9,"y":5,"g":2},{"x":27.4,"y":4.2,"g":2},{"x":28.3,"y":5.2,"g":2},{"x":28.3,"y":4.2,"g":2},{"x":26.3,"y":4.2,"g":2},{"x":26.7,"y":2.5,"g":2},{"x":26.9,"y":1.7,"g":2},{"x":27.4,"y":1.5,"g":2},{"x":28.6,"y":1.7,"g":2},{"x":30,"y":4.1,"g":2},{"x":30.5,"y":4.2,"g":2},{"x":0.9,"y":-38.5,"g":2},{"x":0.7,"y":-39.5,"g":2},{"x":-1,"y":-43,"g":2},{"x":-0.5,"y":-43.1,"g":2},{"x":1.4,"y":-40.6,"g":2},{"x":5.7,"y":-41.1,"g":2},{"x":7.5,"y":-41.7,"g":2},{"x":8.3,"y":-40.9,"g":2},{"x":4.2,"y":-45.3,"g":2},{"x":-7.2,"y":35.9,"g":2},{"x":-6.8,"y":36.4,"g":2},{"x":-6.2,"y":34.5,"g":2},{"x":-6.9,"y":33.7,"g":2},{"x":-7.1,"y":33.3,"g":2},{"x":-5.6,"y":24.3,"g":2},{"x":-8.8,"y":13.8,"g":2},{"x":-8.2,"y":12.6,"g":2},{"x":-7.8,"y":11,"g":2},{"x":-8.8,"y":-13,"g":2},{"x":-8.4,"y":-13.6,"g":2},{"x":-9.2,"y":-13.9,"g":2},{"x":-8,"y":-14.8,"g":2},{"x":-3.8,"y":-16.6,"g":2},{"x":11.2,"y":21.9,"g":2},{"x":10.6,"y":3.8,"g":2},{"x":10.2,"y":3.6,"g":2},{"x":9.8,"y":2.2,"g":2},{"x":-26.6,"y":7,"g":2},{"x":-26.4,"y":5,"g":2},{"x":-2.4,"y":-2.6,"g":2},{"x":-2.2,"y":-3.2,"g":2},{"x":-2.4,"y":1,"g":2},{"x":-3,"y":1,"g":2},{"x":3.3,"y":25.6,"g":2},
{"x":-0.4,"y":-41.4,"g":3},{"x":0.4,"y":-41.1,"g":3},{"x":1.2,"y":-41.4,"g":3},{"x":1.4,"y":-42.9,"g":3},{"x":2.1,"y":-42.9,"g":3},{"x":2.7,"y":-42.7,"g":3},{"x":1.8,"y":-44.2,"g":3},{"x":2.6,"y":-43.4,"g":3},{"x":2.7,"y":-44.8,"g":3},{"x":3.6,"y":-42.9,"g":3},{"x":4.6,"y":-42.2,"g":3},{"x":3.6,"y":-43.9,"g":3},{"x":4.3,"y":-43.7,"g":3},{"x":3.9,"y":-44.7,"g":3},{"x":4.6,"y":-44.4,"g":3},{"x":5.2,"y":-44.4,"g":3},{"x":5.7,"y":-43.6,"g":3},{"x":5.7,"y":-45.3,"g":3},{"x":6.4,"y":-43.7,"g":3},{"x":7,"y":-43.4,"g":3},{"x":7.8,"y":-43.6,"g":3},{"x":8.2,"y":-43.6,"g":3},{"x":8.3,"y":-41.7,"g":3},{"x":-35.8,"y":25.1,"g":3},{"x":-35.2,"y":25.2,"g":3},{"x":-34.6,"y":25.5,"g":3},{"x":-33.6,"y":22.5,"g":3},{"x":-33.1,"y":23.2,"g":3},{"x":-33.8,"y":24.5,"g":3},{"x":-33.4,"y":25.3,"g":3},{"x":-33.6,"y":26.3,"g":3},{"x":-33.1,"y":26.8,"g":3},{"x":-32.6,"y":27.3,"g":3},{"x":-32.7,"y":26,"g":3},{"x":-32,"y":26.8,"g":3},{"x":-31.6,"y":26,"g":3},{"x":-30.9,"y":26.8,"g":3},{"x":-30.6,"y":27.3,"g":3},{"x":-30.2,"y":27.3,"g":3},{"x":-33.1,"y":25.3,"g":3},{"x":-32.4,"y":25.3,"g":3},{"x":-32,"y":24.8,"g":3},{"x":-31.3,"y":25.3,"g":3},{"x":-32.7,"y":24.6,"g":3},{"x":-30.9,"y":25.8,"g":3},{"x":-33.9,"y":24.8,"g":3},{"x":-28.4,"y":20.2,"g":3},{"x":0.6,"y":22.8,"g":3},{"x":16.9,"y":-18.6,"g":3},{"x":-38.4,"y":14.5,"g":3},{"x":-37.9,"y":14.4,"g":3},{"x":-38.2,"y":13.8,"g":3},{"x":-37.3,"y":14,"g":3},{"x":-37,"y":13.5,"g":3},{"x":-36.6,"y":12.9,"g":3},{"x":-37.7,"y":11.9,"g":3},{"x":-37.2,"y":11.6,"g":3},{"x":-36.8,"y":11.6,"g":3},{"x":-36.4,"y":11.6,"g":3},{"x":-37,"y":10.9,"g":3},{"x":-36.3,"y":10.9,"g":3},{"x":-35.9,"y":11.3,"g":3},{"x":-35.6,"y":10.6,"g":3},{"x":-36.8,"y":11.1,"g":3},
{"x":-1.5,"y":48.5,"g":4},{"x":-1,"y":49,"g":4},{"x":-0.8,"y":49.5,"g":4},{"x":-0.5,"y":48,"g":4},{"x":-0.3,"y":49.8,"g":4},{"x":0,"y":48.5,"g":4},{"x":0.2,"y":49.8,"g":4},{"x":0.3,"y":47.5,"g":4},{"x":0.5,"y":48.2,"g":4},{"x":0.8,"y":49,"g":4},{"x":1,"y":48,"g":4},{"x":-0.2,"y":47.5,"g":4},{"x":0,"y":47,"g":4},{"x":0.4,"y":46.8,"g":4},{"x":1.2,"y":46.5,"g":4},{"x":1.5,"y":47,"g":4},{"x":2,"y":50.5,"g":4},{"x":2.4,"y":50,"g":4},{"x":2.5,"y":49,"g":4},{"x":2.9,"y":48.5,"g":4},{"x":3.2,"y":48.7,"g":4},{"x":4,"y":49,"g":4},{"x":3.8,"y":47.5,"g":4},{"x":3.5,"y":46.5,"g":4},{"x":2.5,"y":46.8,"g":4},{"x":3,"y":46.7,"g":4},{"x":2,"y":46.5,"g":4},{"x":0.3,"y":45.5,"g":4},{"x":1.3,"y":46,"g":4},{"x":3.5,"y":45,"g":4},{"x":-2.4,"y":46.5,"g":4},{"x":0.2,"y":48,"g":4},{"x":-0.5,"y":48.8,"g":4},{"x":0.6,"y":48.8,"g":4},{"x":0,"y":49.3,"g":4},{"x":0,"y":41.3,"g":4},{"x":0.1,"y":41,"g":4},{"x":0.9,"y":39.4,"g":4},{"x":1.1,"y":39.4,"g":4},{"x":3.2,"y":42.7,"g":4},{"x":3.4,"y":42.2,"g":4},{"x":2.3,"y":39,"g":4},{"x":3.4,"y":39,"g":4},{"x":3.1,"y":38.4,"g":4},{"x":3.5,"y":38.4,"g":4},{"x":0.2,"y":37.3,"g":4},{"x":3.3,"y":36.8,"g":4},{"x":3.9,"y":36.8,"g":4},{"x":1.6,"y":36.3,"g":4},{"x":2.5,"y":36.1,"g":4},{"x":3.4,"y":36.1,"g":4},{"x":4.7,"y":36.4,"g":4},{"x":-3.3,"y":35.6,"g":4},{"x":-2.6,"y":35.6,"g":4},{"x":-1.2,"y":35.4,"g":4},{"x":-0.7,"y":35.1,"g":4},{"x":0.1,"y":34.9,"g":4},{"x":1.3,"y":35.1,"g":4},{"x":2.5,"y":35.4,"g":4},{"x":3.2,"y":35.1,"g":4},{"x":3.9,"y":35.1,"g":4},{"x":4.6,"y":35.4,"g":4},{"x":3.2,"y":34.4,"g":4},{"x":3.9,"y":34.4,"g":4},{"x":5.3,"y":34,"g":4},{"x":5.7,"y":33.9,"g":4},{"x":6.4,"y":33.2,"g":4},{"x":6.4,"y":32.2,"g":4},{"x":-0.9,"y":33.5,"g":4},{"x":-0.4,"y":33.9,"g":4},{"x":0.4,"y":33.7,"g":4},{"x":1.4,"y":34.2,"g":4},{"x":1.2,"y":32.5,"g":4},{"x":1.8,"y":31.7,"g":4},{"x":7.1,"y":37.3,"g":4},{"x":7.7,"y":37.1,"g":4},{"x":7.3,"y":35.4,"g":4},{"x":8.9,"y":35.1,"g":4},{"x":9.4,"y":35.4,"g":4},{"x":8.3,"y":32.9,"g":4},{"x":12.8,"y":32.5,"g":4},{"x":13.2,"y":32.7,"g":4},{"x":7.7,"y":10.6,"g":4},{"x":7.7,"y":10.2,"g":4},{"x":8.5,"y":30.2,"g":4},{"x":8.9,"y":30.7,"g":4},{"x":9.5,"y":30.9,"g":4},{"x":10,"y":30.7,"g":4},{"x":8.6,"y":29.2,"g":4},{"x":9.2,"y":29.7,"g":4},{"x":9.8,"y":29.9,"g":4},{"x":10.3,"y":29.7,"g":4},{"x":9.6,"y":29.2,"g":4},{"x":10.3,"y":28.9,"g":4},{"x":10.9,"y":29.2,"g":4},{"x":11.4,"y":30,"g":4},{"x":11.4,"y":29,"g":4},{"x":11.2,"y":28,"g":4},{"x":11.6,"y":27.5,"g":4},{"x":12.1,"y":27,"g":4},{"x":10.2,"y":30.2,"g":4},{"x":9.9,"y":29.5,"g":4},{"x":10.6,"y":30,"g":4},{"x":3.9,"y":36,"g":4},{"x":3,"y":36,"g":4}
],"frame":[{"x":0,"y":0}]},"layer":[{"data":{"name":"pts"},"mark":{"type":"circle","size":200,"opacity":1},"encoding":{"x":{"field":"x","type":"quantitative","scale":{"domain":[-42.7,40],"nice":false,"zero":false},"axis":{"orient":"bottom","values":[-40,-30,-20,-10,0,10,20,30,40],"labelPadding":29,"labelFlush":false,"labelExpr":"''+datum.value"}},"y":{"field":"y","type":"quantitative","scale":{"domain":[-60,60],"nice":false,"zero":false},"axis":{"orient":"left","values":[-60,-40,-20,0,20,40,60],"labelPadding":24,"labelExpr":"''+datum.value"}},"color":{"field":"g","type":"nominal","scale":{"domain":[0,1,2,3,4],"range":["#ff0000","#00ff00","#0000ff","#ff00ff","#000000"]},"legend":{"title":null,"orient":"none","legendX":1037,"legendY":23,"fillColor":"white","strokeColor":"#262626","padding":9,"labelFontSize":30,"labelFont":"DejaVu Sans","labelColor":"#000000","symbolType":"circle","symbolSize":200,"symbolOffset":16,"labelOffset":22,"rowPadding":7.75,"symbolStrokeWidth":0,"labelLimit":60}}}},{"data":{"name":"frame"},"mark":{"type":"point","opacity":0},"encoding":{"x":{"field":"x","type":"quantitative","axis":{"orient":"top","values":[-40,-30,-20,-10,0,10,20,30,40],"labels":false}},"y":{"field":"y","type":"quantitative","axis":{"orient":"right","values":[-60,-40,-20,0,20,40,60],"labels":false}}}}],"resolve":{"axis":{"x":"independent","y":"independent"}}}
